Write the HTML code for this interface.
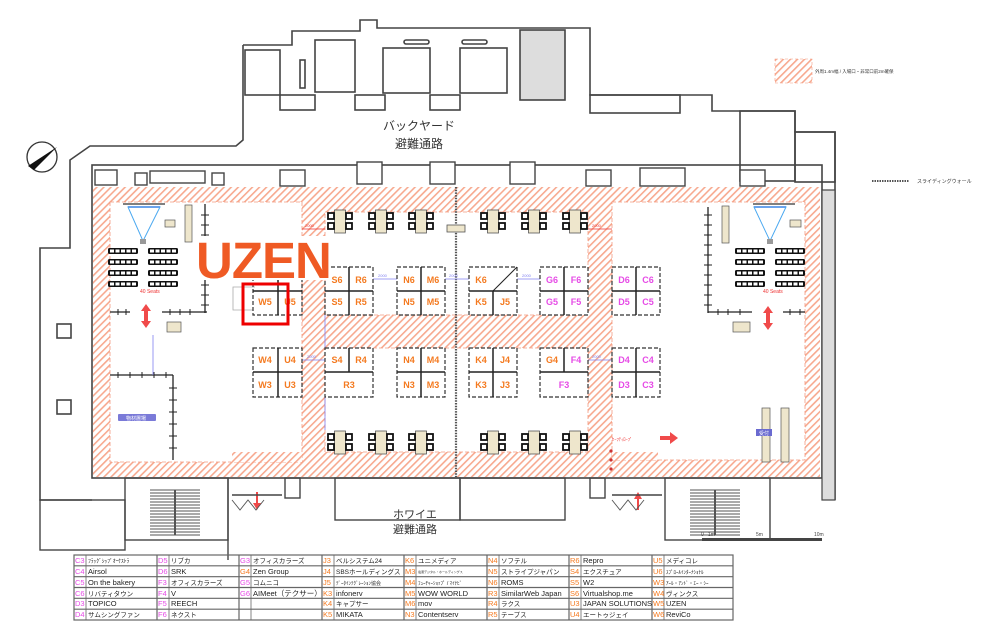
<!DOCTYPE html>
<html><head><meta charset="utf-8"><style>
html,body{margin:0;padding:0;background:#fff;width:1000px;height:637px;overflow:hidden}
svg{display:block}
text{font-family:"Liberation Sans","Noto Sans CJK JP",sans-serif}
</style></head><body>
<svg width="1000" height="637" viewBox="0 0 1000 637" xmlns="http://www.w3.org/2000/svg">
<defs>
<pattern id="h" width="5" height="5" patternUnits="userSpaceOnUse" patternTransform="rotate(45)">
<rect width="5" height="5" fill="#fff"/><rect width="1.6" height="5" fill="#f7a98f"/>
</pattern>
<g id="tbl"><rect x="-5.5" y="-11" width="11" height="23" fill="#eee6cc" stroke="#555" stroke-width="0.8"/>
<rect x="-12" y="-8" width="6" height="6" fill="#fff" stroke="#111" stroke-width="1.8"/>
<rect x="-12" y="2" width="6" height="6" fill="#fff" stroke="#111" stroke-width="1.8"/>
<rect x="6" y="-8" width="6" height="6" fill="#fff" stroke="#111" stroke-width="1.8"/>
<rect x="6" y="2" width="6" height="6" fill="#fff" stroke="#111" stroke-width="1.8"/></g>
<g id="row"><rect x="0" y="0" width="30" height="6" rx="1.5" fill="#111"/>
<rect x="2" y="1.5" width="4" height="3" fill="#fff"/><rect x="7.5" y="1.5" width="4" height="3" fill="#fff"/><rect x="13" y="1.5" width="4" height="3" fill="#fff"/><rect x="18.5" y="1.5" width="4" height="3" fill="#fff"/><rect x="24" y="1.5" width="4" height="3" fill="#fff"/></g>
<g id="chairs"><use href="#row" x="0" y="0"/><use href="#row" x="0" y="11"/><use href="#row" x="0" y="22"/><use href="#row" x="0" y="33"/>
<use href="#row" x="40" y="0"/><use href="#row" x="40" y="11"/><use href="#row" x="40" y="22"/><use href="#row" x="40" y="33"/></g>
</defs>

<!-- building outline top -->
<g fill="none" stroke="#444" stroke-width="1.6">
<polyline points="243,45 292,45 292,31 360,31 360,20 377,20 377,28 590,28 590,95 712,95 712,111 795,111 795,132 835,132 835,500"/>
<polyline points="243,45 243,95 243,140 236,146 90,146 70,160 70,248 40,248 40,500 92,500"/>
<rect x="245" y="50" width="35" height="45"/>
<rect x="315" y="40" width="40" height="52"/>
<rect x="383" y="48" width="47" height="45"/>
<rect x="460" y="48" width="47" height="45"/>
<rect x="520" y="30" width="45" height="70" fill="#ddd"/>
<rect x="280" y="95" width="35" height="15"/>
<rect x="355" y="95" width="30" height="15"/>
<rect x="430" y="95" width="30" height="15"/>
<rect x="590" y="95" width="90" height="18"/>
<rect x="740" y="111" width="55" height="70"/>
<rect x="795" y="132" width="40" height="50"/>
<rect x="300" y="60" width="5" height="28"/>
<rect x="404" y="40" width="25" height="4" rx="2"/>
<rect x="462" y="40" width="25" height="4" rx="2"/>
<!-- hall walls -->
<rect x="92" y="165" width="730" height="313"/>
<rect x="57" y="324" width="14" height="14"/><rect x="57" y="400" width="14" height="14"/>
</g>
<rect x="822" y="190" width="13" height="310" fill="#ddd" stroke="#444" stroke-width="1.2"/>
<g fill="#fff" stroke="#444" stroke-width="1.4">
<rect x="95" y="170" width="22" height="15"/><rect x="135" y="173" width="12" height="12"/><rect x="150" y="171" width="55" height="12"/><rect x="212" y="173" width="12" height="12"/>
<rect x="280" y="170" width="25" height="16"/><rect x="357" y="162" width="25" height="22"/><rect x="430" y="162" width="25" height="22"/>
<rect x="510" y="162" width="25" height="22"/><rect x="586" y="170" width="25" height="16"/><rect x="640" y="168" width="45" height="18"/><rect x="740" y="170" width="25" height="16"/>
</g>

<!-- hatched hall -->
<rect x="93" y="187" width="727" height="290" fill="url(#h)"/>
<g fill="#fff" stroke="#f49a80" stroke-width="0.8" stroke-dasharray="4 2">
<rect x="110" y="202" width="192" height="260"/>
<rect x="325" y="212" width="263" height="103"/>
<rect x="325" y="348" width="263" height="104"/>
<rect x="612" y="202" width="193" height="258"/>
</g>
<rect x="232" y="452" width="70" height="10" fill="url(#h)"/>
<rect x="612" y="452" width="46" height="8" fill="url(#h)"/>
<line x1="456" y1="187" x2="456" y2="477" stroke="#555" stroke-width="2.2" stroke-dasharray="1.5 1.2"/>

<!-- cafe tables -->
<use href="#tbl" x="340" y="221"/><use href="#tbl" x="381" y="221"/><use href="#tbl" x="421" y="221"/>
<use href="#tbl" x="493" y="221"/><use href="#tbl" x="534" y="221"/><use href="#tbl" x="575" y="221"/>
<use href="#tbl" x="340" y="442"/><use href="#tbl" x="381" y="442"/><use href="#tbl" x="421" y="442"/>
<use href="#tbl" x="493" y="442"/><use href="#tbl" x="534" y="442"/><use href="#tbl" x="575" y="442"/>
<rect x="447" y="225" width="18" height="7" fill="#eee6cc" stroke="#555" stroke-width="0.8"/>

<!-- seating areas -->
<use href="#chairs" x="108" y="248"/>
<use href="#chairs" x="735" y="248"/>
<text x="140" y="293" font-size="5" fill="#e33">40 Seats</text>
<text x="763" y="293" font-size="5" fill="#e33">40 Seats</text>
<g stroke="#333" stroke-width="1.2"><line x1="123" y1="204" x2="165" y2="204"/><line x1="753" y1="204" x2="795" y2="204"/></g>
<line x1="128" y1="207" x2="160" y2="207" stroke="#1a3fd0" stroke-width="1.5"/>
<line x1="754" y1="207" x2="786" y2="207" stroke="#1a3fd0" stroke-width="1.5"/>
<polygon points="128,207 160,207 143,241" fill="none" stroke="#4aa8f0" stroke-width="1"/>
<polygon points="754,207 786,207 770,241" fill="none" stroke="#4aa8f0" stroke-width="1"/>
<rect x="140" y="239" width="6" height="5" fill="#999"/><rect x="767" y="239" width="6" height="5" fill="#999"/>
<rect x="165" y="220" width="10" height="7" fill="#eee6cc" stroke="#555" stroke-width="0.7"/>
<rect x="790" y="220" width="11" height="7" fill="#eee6cc" stroke="#555" stroke-width="0.7"/>
<rect x="185" y="205" width="7" height="37" fill="#eee6cc" stroke="#555" stroke-width="0.7"/>
<rect x="722" y="206" width="7" height="37" fill="#eee6cc" stroke="#555" stroke-width="0.7"/>
<rect x="167" y="322" width="14" height="10" fill="#eee6cc" stroke="#555" stroke-width="0.7"/>
<rect x="733" y="322" width="17" height="10" fill="#eee6cc" stroke="#555" stroke-width="0.7"/>
<!-- fences -->
<g stroke="#222" stroke-width="1.3">
<line x1="205" y1="204" x2="205" y2="313"/><line x1="110" y1="312" x2="130" y2="312"/><line x1="162" y1="312" x2="207" y2="312"/>
<line x1="110" y1="375" x2="173" y2="375"/><line x1="173" y1="375" x2="173" y2="460"/>
<line x1="708" y1="207" x2="708" y2="313"/><line x1="708" y1="312" x2="752" y2="312"/><line x1="783" y1="312" x2="805" y2="312"/>
</g>
<g stroke="#222" stroke-width="1" id="ticks">
<path d="M201 215h8M201 225h8M201 235h8M201 245h8M201 255h8M201 265h8M201 275h8M201 285h8M201 295h8M201 305h8M118 309v6M126 309v6M170 309v6M180 309v6M190 309v6M118 372v6M130 372v6M142 372v6M154 372v6M166 372v6M169 388h8M169 400h8M169 412h8M169 424h8M169 436h8M169 448h8M704 215h8M704 225h8M704 235h8M704 245h8M704 255h8M704 265h8M704 275h8M704 285h8M704 295h8M704 305h8M718 309v6M728 309v6M740 309v6M790 309v6M800 309v6"/>
</g>
<!-- red arrows -->
<g fill="#f04a4a">
<polygon points="146,304 141,311 144,311 144,321 141,321 146,328 151,321 148,321 148,311 151,311"/>
<polygon points="768,306 763,313 766,313 766,323 763,323 768,330 773,323 770,323 770,313 773,313"/>
<polygon points="660,436 670,436 670,432 678,438 670,444 670,440 660,440"/>
<polygon points="256,492 258,492 258,503 261,503 257,510 253,503 256,503"/>
<polygon points="637,510 639,510 639,499 642,499 638,492 634,499 637,499"/>
</g>
<text x="612" y="441" font-size="4.5" fill="#e33">ｾｰﾌﾃｨﾛｰﾌﾟ</text>
<g fill="#c33"><circle cx="611" cy="451" r="1.6"/><circle cx="611" cy="460" r="1.6"/><circle cx="611" cy="469" r="1.6"/></g>
<!-- reception -->
<rect x="762" y="408" width="8" height="54" fill="#eee6cc" stroke="#555" stroke-width="0.7"/>
<rect x="781" y="408" width="8" height="54" fill="#eee6cc" stroke="#555" stroke-width="0.7"/>
<rect x="756" y="429" width="16" height="7" fill="#6a6ad0"/>
<text x="759" y="435" font-size="5" fill="#fff">受付</text>
<rect x="118" y="414" width="38" height="7" rx="1" fill="#7a7ad8"/>
<text x="126" y="420" font-size="5" fill="#fff">物材置場</text>

<!-- dimension lines -->
<g stroke="#8080f0" stroke-width="0.8"><line x1="302" y1="279" x2="325" y2="279"/><line x1="373" y1="279" x2="397" y2="279"/><line x1="445" y1="279" x2="469" y2="279"/><line x1="517" y1="279" x2="540" y2="279"/><line x1="302" y1="360" x2="325" y2="360"/><line x1="588" y1="360" x2="612" y2="360"/><line x1="325" y1="315" x2="325" y2="348"/><line x1="325" y1="397" x2="325" y2="430"/><line x1="153" y1="335" x2="153" y2="375"/></g>
<g font-size="4" fill="#8080f0"><text x="307" y="277">2000</text><text x="378" y="277">2000</text><text x="449" y="277">2000</text><text x="522" y="277">2000</text><text x="307" y="358">2000</text><text x="592" y="358">2000</text></g>
<g stroke="#e33" stroke-width="0.8"><line x1="302" y1="229" x2="325" y2="229"/><line x1="588" y1="229" x2="612" y2="229"/></g>
<g font-size="4" fill="#e33"><text x="305" y="227">2000</text><text x="592" y="227">2000</text></g>
<polyline points="255,287 233,287 233,310 253,310" fill="none" stroke="#aaa" stroke-width="0.8"/>

<!-- booths -->
<g fill="none" stroke="#333" stroke-width="1.2" stroke-dasharray="4 2">
<rect x="253" y="267" width="49" height="48"/><rect x="325" y="267" width="48" height="48"/><rect x="397" y="267" width="48" height="48"/><rect x="469" y="267" width="48" height="48"/><rect x="540" y="267" width="48" height="48"/><rect x="612" y="267" width="48" height="48"/>
<rect x="253" y="348" width="49" height="49"/><rect x="325" y="348" width="48" height="49"/><rect x="397" y="348" width="48" height="49"/><rect x="469" y="348" width="48" height="49"/><rect x="540" y="348" width="48" height="49"/><rect x="612" y="348" width="48" height="49"/>
</g>
<g stroke="#222" stroke-width="1.5">
<path d="M253 291h49M278 267v48M325 291h48M349 267v48M397 291h48M421 267v48M469 291h48M493 291v24M540 291h48M564 267v48M612 291h48M636 267v48"/>
<path d="M253 372h49M278 348v49M325 372h48M349 348v24M397 372h48M421 348v49M469 372h48M493 348v49M540 372h48M564 348v24M612 372h48M636 348v49"/>
<path d="M493 291L517 267" stroke-width="1"/>
</g>
<g font-size="9" font-weight="bold" text-anchor="middle" fill="#f47a20">
<text x="265" y="305">W5</text><text x="290" y="305">U5</text>
<text x="337" y="283">S6</text><text x="361" y="283">R6</text><text x="337" y="305">S5</text><text x="361" y="305">R5</text>
<text x="409" y="283">N6</text><text x="433" y="283">M6</text><text x="409" y="305">N5</text><text x="433" y="305">M5</text>
<text x="481" y="283">K6</text><text x="481" y="305">K5</text><text x="505" y="305">J5</text>
<text x="265" y="363">W4</text><text x="290" y="363">U4</text><text x="265" y="388">W3</text><text x="290" y="388">U3</text>
<text x="337" y="363">S4</text><text x="361" y="363">R4</text><text x="349" y="388">R3</text>
<text x="409" y="363">N4</text><text x="433" y="363">M4</text><text x="409" y="388">N3</text><text x="433" y="388">M3</text>
<text x="481" y="363">K4</text><text x="505" y="363">J4</text><text x="481" y="388">K3</text><text x="505" y="388">J3</text>
<text x="552" y="363">G4</text>
</g>
<g font-size="9" font-weight="bold" text-anchor="middle" fill="#e64be6">
<text x="552" y="283">G6</text><text x="576" y="283">F6</text><text x="552" y="305">G5</text><text x="576" y="305">F5</text>
<text x="624" y="283">D6</text><text x="648" y="283">C6</text><text x="624" y="305">D5</text><text x="648" y="305">C5</text>
<text x="576" y="363">F4</text><text x="564" y="388">F3</text>
<text x="624" y="363">D4</text><text x="648" y="363">C4</text><text x="624" y="388">D3</text><text x="648" y="388">C3</text>
</g>

<!-- UZEN logo -->
<rect x="196" y="236" width="134" height="44" fill="#fff"/>
<text x="196" y="278" font-size="51" font-weight="bold" fill="#ef5a24" letter-spacing="-1">UZEN</text>
<rect x="243" y="284" width="45" height="40" fill="none" stroke="#e00" stroke-width="3"/>

<!-- compass -->
<circle cx="42" cy="157" r="15" fill="#fff" stroke="#333" stroke-width="1.3"/>
<polygon points="30,168 57,147 33,164" fill="#111"/>
<polygon points="28,166 57,147 34,170" fill="#111"/>

<!-- bottom structures -->
<g fill="none" stroke="#444" stroke-width="1.4">
<rect x="125" y="478" width="103" height="62"/>
<rect x="665" y="478" width="105" height="62"/>
<rect x="335" y="478" width="125" height="42"/>
<rect x="460" y="478" width="105" height="42"/>
<rect x="285" y="478" width="15" height="20"/><rect x="590" y="478" width="15" height="20"/>
<rect x="40" y="500" width="85" height="50"/>
<line x1="228" y1="478" x2="228" y2="560"/>
<line x1="232" y1="495" x2="282" y2="495"/><line x1="612" y1="495" x2="662" y2="495"/>
</g>
<g stroke="#555" stroke-width="0.9">
<path d="M150 490h50M150 493h50M150 496h50M150 499h50M150 502h50M150 505h50M150 508h50M150 511h50M150 514h50M150 517h50M150 520h50M150 523h50M150 526h50M150 529h50M150 532h50M150 535h50"/>
<path d="M690 490h50M690 493h50M690 496h50M690 499h50M690 502h50M690 505h50M690 508h50M690 511h50M690 514h50M690 517h50M690 520h50M690 523h50M690 526h50M690 529h50M690 532h50M690 535h50"/>
<path d="M175 490v45M715 490v45" stroke-width="2"/>
<path d="M232 500l8 10 8-10 8 10 8-10M612 500l8 10 8-10 8 10 8-10" fill="none"/>
</g>
<text x="415" y="518" font-size="11" text-anchor="middle" fill="#333">ホワイエ</text>
<text x="415" y="533" font-size="11" text-anchor="middle" fill="#333">避難通路</text>
<text x="419" y="130" font-size="12" text-anchor="middle" fill="#333">バックヤード</text>
<text x="419" y="148" font-size="12" text-anchor="middle" fill="#333">避難通路</text>

<!-- scale bar -->
<rect x="702" y="538" width="120" height="3" fill="#444"/>
<g font-size="5" fill="#444"><text x="701" y="536">0</text><text x="708" y="536">1m</text><text x="756" y="536">5m</text><text x="814" y="536">10m</text></g>

<!-- top-right legend -->
<rect x="775" y="59" width="37" height="24" fill="url(#h)" stroke="#f49a80" stroke-width="0.6" stroke-dasharray="3 2"/>
<text x="815" y="73" font-size="4.5" fill="#333">外周1.4m幅 / 入場口・非常口前2m確保</text>
<line x1="872" y1="181" x2="909" y2="181" stroke="#555" stroke-width="2" stroke-dasharray="1.5 1"/>
<text x="917" y="183" font-size="5" fill="#333">スライディングウォール</text>

<!-- legend table -->
<g fill="none" stroke="#666" stroke-width="1.2">
<rect x="74" y="555" width="659" height="65"/>
<path d="M74 565.8h659M74 576.7h659M74 587.5h659M74 598.3h659M74 609.2h659"/>
<path d="M157 555v65M239 555v65M322 555v65M404 555v65M487 555v65M569 555v65M652 555v65"/>
<path d="M86 555v65M169 555v65M251 555v65M334 555v65M416 555v65M499 555v65M581 555v65M664 555v65" stroke-width="0.8"/>
</g>
<g font-size="7.5" fill="#e64be6">
<text x="75" y="563">C3</text><text x="75" y="574">C4</text><text x="75" y="585">C5</text><text x="75" y="596">C6</text><text x="75" y="606">D3</text><text x="75" y="617">D4</text>
<text x="158" y="563">D5</text><text x="158" y="574">D6</text><text x="158" y="585">F3</text><text x="158" y="596">F4</text><text x="158" y="606">F5</text><text x="158" y="617">F6</text>
<text x="240" y="563">G3</text><text x="240" y="585">G5</text><text x="240" y="596">G6</text>
</g>
<g font-size="7.5" fill="#f47a20">
<text x="240" y="574">G4</text>
<text x="323" y="563">J3</text><text x="323" y="574">J4</text><text x="323" y="585">J5</text><text x="323" y="596">K3</text><text x="323" y="606">K4</text><text x="323" y="617">K5</text>
<text x="405" y="563">K6</text><text x="405" y="574">M3</text><text x="405" y="585">M4</text><text x="405" y="596">M5</text><text x="405" y="606">M6</text><text x="405" y="617">N3</text>
<text x="488" y="563">N4</text><text x="488" y="574">N5</text><text x="488" y="585">N6</text><text x="488" y="596">R3</text><text x="488" y="606">R4</text><text x="488" y="617">R5</text>
<text x="570" y="563">R6</text><text x="570" y="574">S4</text><text x="570" y="585">S5</text><text x="570" y="596">S6</text><text x="570" y="606">U3</text><text x="570" y="617">U4</text>
<text x="653" y="563">U5</text><text x="653" y="574">U6</text><text x="653" y="585">W3</text><text x="653" y="596">W4</text><text x="653" y="606">W5</text><text x="653" y="617">W6</text>
</g>
<g font-size="7.5" fill="#222">
<text x="88" y="563" font-size="5.5">ﾌﾗｯｸﾞｼｯﾌﾟｵｰｹｽﾄﾗ</text><text x="88" y="574">Airsol</text><text x="88" y="585">On the bakery</text><text x="88" y="596" font-size="6.5">リバティタウン</text><text x="88" y="606">TOPICO</text><text x="88" y="617" font-size="6.5">サムシングファン</text>
<text x="171" y="563" font-size="6.5">リブカ</text><text x="171" y="574">SRK</text><text x="171" y="585" font-size="6.5">オフィスカラーズ</text><text x="171" y="596">V</text><text x="171" y="606">REECH</text><text x="171" y="617" font-size="6.5">ネクスト</text>
<text x="253" y="563" font-size="6.5">オフィスカラーズ</text><text x="253" y="574">Zen Group</text><text x="253" y="585" font-size="6.5">コムニコ</text><text x="253" y="596">AIMeet（テクサー）</text>
<text x="336" y="563" font-size="6.5">ベルシステム24</text><text x="336" y="574" font-size="6.5">SBSホールディングス</text><text x="336" y="585" font-size="5">ﾃﾞｰﾀｲﾝﾃｸﾞﾚｰｼｮﾝ協会</text><text x="336" y="596">infonerv</text><text x="336" y="606" font-size="6.5">キャプサー</text><text x="336" y="617">MIKATA</text>
<text x="418" y="563" font-size="6.5">ユニメディア</text><text x="418" y="573" font-size="3">電通デジタル・ホールディングス</text><text x="418" y="585" font-size="5">ﾌｭｰﾁｬｰｼｮｯﾌﾟ / ﾏｲﾅﾋﾞ</text><text x="418" y="596">WOW WORLD</text><text x="418" y="606">mov</text><text x="418" y="617">Contentserv</text>
<text x="501" y="563" font-size="6.5">ソフテル</text><text x="501" y="574" font-size="6.5">ストライプジャパン</text><text x="501" y="585">ROMS</text><text x="501" y="596">SimilarWeb Japan</text><text x="501" y="606" font-size="6.5">ラクス</text><text x="501" y="617" font-size="6.5">テープス</text>
<text x="583" y="563">Repro</text><text x="583" y="574" font-size="6.5">エクスチュア</text><text x="583" y="585">W2</text><text x="583" y="596">Virtualshop.me</text><text x="583" y="606">JAPAN SOLUTIONS</text><text x="583" y="617" font-size="6.5">エートゥジェイ</text>
<text x="666" y="563" font-size="6.5">メディコレ</text><text x="666" y="574" font-size="5">ｽﾌﾟﾛｰﾙｲﾝﾀｰﾅｼｮﾅﾙ</text><text x="666" y="585" font-size="5">ｱｰﾙ・ｱﾝﾄﾞ・ｴｰ・ｼｰ</text><text x="666" y="596" font-size="6.5">ヴィンクス</text><text x="666" y="606">UZEN</text><text x="666" y="617">ReviCo</text>
</g>
</svg>
</body></html>
